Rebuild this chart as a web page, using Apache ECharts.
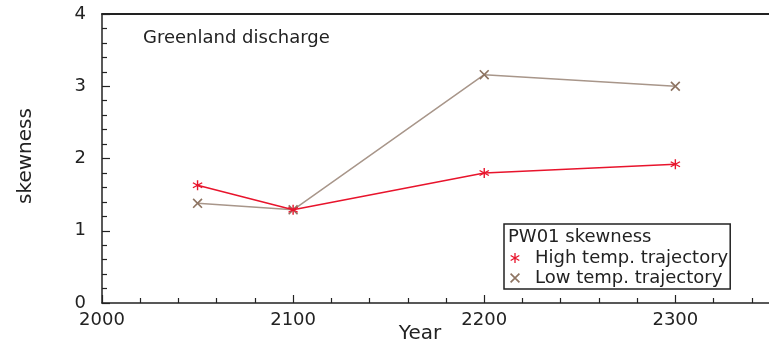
<!DOCTYPE html>
<html>
<head>
<meta charset="utf-8">
<script src="https://cdn.jsdelivr.net/npm/echarts@6/dist/echarts.min.js"></script>
<style>
  html, body { margin: 0; padding: 0; background: #fff; }
  #chart { width: 769px; height: 344px; }
</style>
</head>
<body>
<div id="chart"></div>
<script>
// Skewness of Greenland discharge (PW01) for two temperature trajectories
const years = [2050, 2100, 2200, 2300];
const highTemp = [1.63, 1.29, 1.80, 1.92];
const lowTemp = [1.38, 1.29, 3.16, 3.00];
const seriesNames = ['High temp. trajectory', 'Low temp. trajectory'];
const yTicks = [0, 1, 2, 3, 4];
const xTicks = [2000, 2100, 2200, 2300];

// x range runs a little past the last labelled year, to the right edge
const X_MIN = 2000;
const X_MAX = 2349;
const X_MINOR_STEP = 20;

const FONT = 'DejaVu Sans';
const RED = '#e8142c';
const BROWN_LINE = '#a8968a';
const BROWN_MARK = '#8e7462';
const INK = '#222';

// six-spoke asterisk and diagonal cross, built from thin bars
const ASTERISK = 'path://M-1.3,-10L1.3,-10L1.3,10L-1.3,10Z' +
  'M7.99,-6.13L9.31,-3.87L-7.99,6.13L-9.31,3.87Z' +
  'M-9.31,-3.87L-7.99,-6.13L9.31,3.87L7.99,6.13Z';
const CROSS = 'path://M6.14,-7.99L7.99,-6.14L-6.14,7.99L-7.99,6.14Z' +
  'M-7.99,-6.14L-6.14,-7.99L7.99,6.14L6.14,7.99Z';

const pairs = (vals) => years.map((y, i) => [y, vals[i]]);

// minor tick positions between the labelled years
const xMinor = [];
for (let v = X_MIN + X_MINOR_STEP; v < X_MAX; v += X_MINOR_STEP) {
  if (!xTicks.includes(v)) xMinor.push(v);
}

const chart = echarts.init(document.getElementById('chart'), null, { renderer: 'canvas' });

const axisLineStyle = { color: INK, width: 1.5 };
const tickLineStyle = { color: INK, width: 1.2 };

chart.setOption({
  animation: false,
  backgroundColor: '#fff',
  textStyle: { fontFamily: FONT },
  grid: { left: 102, top: 14, right: 0, height: 289, show: false },
  xAxis: [
    {
      type: 'value', min: X_MIN, max: X_MAX, position: 'bottom',
      axisLine: { show: true, lineStyle: axisLineStyle },
      axisTick: { show: true, inside: true, length: 8, lineStyle: tickLineStyle, customValues: xTicks },
      splitLine: { show: false },
      axisLabel: {
        margin: 8, fontSize: 18, color: INK, fontFamily: FONT,
        customValues: xTicks,
        formatter: (v) => String(v)
      }
    },
    {
      type: 'value', min: X_MIN, max: X_MAX, position: 'bottom',
      axisLine: { show: false },
      axisTick: { show: true, inside: true, length: 5, lineStyle: tickLineStyle, customValues: xMinor },
      splitLine: { show: false },
      axisLabel: { show: false }
    },
    {
      type: 'value', min: X_MIN, max: X_MAX, position: 'top',
      axisLine: { show: true, lineStyle: { color: INK, width: 1.8 } },
      axisTick: { show: false },
      splitLine: { show: false },
      axisLabel: { show: false }
    }
  ],
  yAxis: {
    type: 'value', min: 0, max: 4, interval: 1,
    axisLine: { show: true, lineStyle: axisLineStyle },
    axisTick: { show: true, inside: true, length: 8, lineStyle: tickLineStyle },
    minorTick: { show: true, splitNumber: 5, length: 5, lineStyle: tickLineStyle },
    splitLine: { show: false },
    axisLabel: {
      margin: 16, fontSize: 18, color: INK, fontFamily: FONT,
      formatter: (v) => yTicks.includes(v) ? String(v) : ''
    }
  },
  legend: {
    orient: 'vertical',
    left: 504, top: 224,
    padding: [25, 2, 2, 6],
    itemGap: 2,
    itemWidth: 10, itemHeight: 10,
    borderColor: INK, borderWidth: 1.5,
    backgroundColor: '#fff',
    data: [
      { name: seriesNames[0], icon: ASTERISK },
      { name: seriesNames[1], icon: CROSS }
    ],
    textStyle: { fontSize: 18, color: INK, fontFamily: FONT, padding: [0, 0, 0, 10] }
  },
  graphic: [
    {
      type: 'text', left: 143, top: 29, z: 10,
      style: { text: 'Greenland discharge', font: '18px "DejaVu Sans"', fill: INK }
    },
    {
      type: 'text', left: 508, top: 228, z: 110,
      style: { text: 'PW01 skewness', font: '18px "DejaVu Sans"', fill: INK }
    },
    {
      type: 'text', x: 420, y: 334, z: 10,
      style: { text: 'Year', font: '20px "DejaVu Sans"', fill: INK, align: 'center', verticalAlign: 'middle' }
    },
    {
      type: 'text', x: 26, y: 156, rotation: Math.PI / 2, z: 10,
      style: { text: 'skewness', font: '20px "DejaVu Sans"', fill: INK, align: 'center', verticalAlign: 'middle' }
    }
  ],
  series: [
    {
      name: seriesNames[1], type: 'line', data: pairs(lowTemp),
      xAxisIndex: 0,
      symbol: CROSS, symbolSize: 10,
      lineStyle: { color: BROWN_LINE, width: 1.5 },
      itemStyle: { color: BROWN_MARK },
      z: 2
    },
    {
      name: seriesNames[0], type: 'line', data: pairs(highTemp),
      xAxisIndex: 0,
      symbol: ASTERISK, symbolSize: 10,
      lineStyle: { color: RED, width: 1.5 },
      itemStyle: { color: RED },
      z: 3
    }
  ]
});
</script>
</body>
</html>
